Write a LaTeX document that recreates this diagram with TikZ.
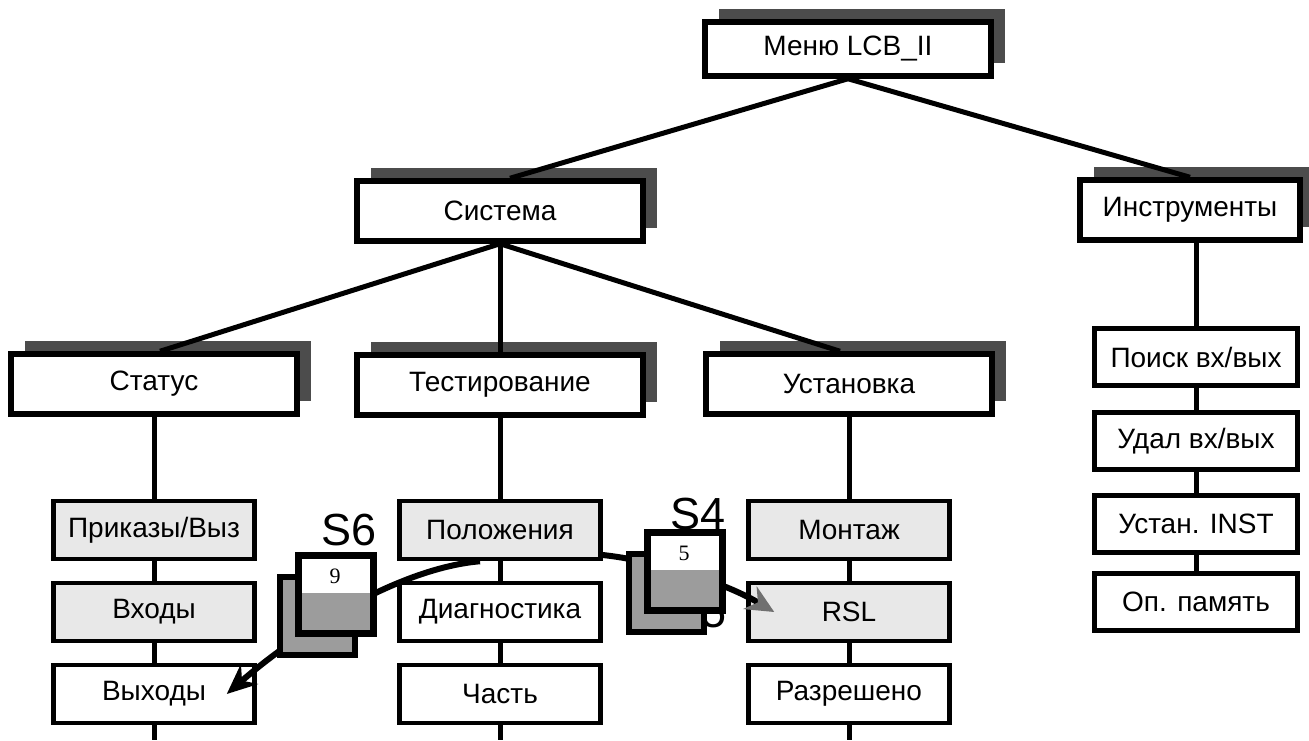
\documentclass[tikz,border=0pt]{standalone}
\usepackage{fontspec}
\setmainfont{Liberation Sans}
\newfontfamily\numfont{Liberation Serif}
\usetikzlibrary{arrows.meta,shadows,positioning}
\definecolor{boxgrey}{HTML}{E8E8E8}
\definecolor{shadowgrey}{HTML}{4C4C4C}
\definecolor{icongrey}{HTML}{9C9C9C}
\definecolor{tipgrey}{HTML}{707070}

\newcommand{\stackicon}[4]{%
  \draw[line width=6pt,fill=icongrey] (#1-18,#2+22) rectangle ++(75,78);
  \fill[white] (#1,#2) rectangle ++(75,38);
  \fill[icongrey] (#1,#2+38) rectangle ++(75,40);
  \draw[line width=7pt] (#1,#2) rectangle ++(75,78);
  \node[num] (#3) at (#1+37,#2+21) {#4};
}

\begin{document}
\begin{tikzpicture}[x=1pt,y=-1pt,
    lbl/.style={font=\fontsize{28}{32}\selectfont},
    head/.style={lbl,draw,fill=white,line width=5.5pt,inner sep=0pt,
        minimum width=286pt,minimum height=60pt,
        drop shadow={shadow xshift=14pt,shadow yshift=13pt,fill=shadowgrey,opacity=1}},
    leaf/.style={lbl,draw,fill=white,line width=4.5pt,inner sep=0pt,
        minimum width=201pt,minimum height=58pt},
    grey/.style={fill=boxgrey},
    conn/.style={line width=5pt},
    slabel/.style={inner sep=0pt,font=\fontsize{45}{45}\selectfont},
    num/.style={inner sep=0pt,font=\numfont\fontsize{22}{22}\selectfont}
]
    \useasboundingbox (0,0) rectangle (1309,740);

    \node[head,minimum height=54pt] (menu)  at (848,49)  {Меню LCB\_II};
    \node[head]                     (sys)   at (500,211) {Система};
    \node[head,minimum width=220pt] (tools) at (1190,210) {Инструменты};

    \node[head] (status) at (154,384) {Статус};
    \node[head] (test)   at (500,385) {Тестирование};
    \node[head] (setup)  at (849,384) {Установка};

    \node[leaf,grey] (cmd)     at (154,530) {Приказы/Выз};
    \node[leaf,grey] (inputs)  at (154,612) {Входы};
    \node[leaf]      (outputs) at (154,694) {Выходы};

    \node[leaf,grey] (pos)  at (500,530) {Положения};
    \node[leaf]      (diag) at (500,612) {Диагностика};
    \node[leaf]      (part) at (500,694) {Часть};

    \node[leaf,grey] (mount)   at (849,530) {Монтаж};
    \node[leaf,grey] (rsl)     at (849,612) {RSL};
    \node[leaf]      (enabled) at (849,694) {Разрешено};

    \node[leaf,minimum width=203pt,minimum height=57pt] (search)  at (1196,357) {Поиск вх/вых};
    \node[leaf,minimum width=203pt,minimum height=57pt] (del)     at (1196,441) {Удал вх/вых};
    \node[leaf,minimum width=203pt,minimum height=57pt] (instset) at (1196,524) {Устан. INST};
    \node[leaf,minimum width=203pt,minimum height=57pt] (mem)     at (1196,602) {Оп. память};

    \coordinate (outputs-end) at (154,740);
    \coordinate (part-end)    at (500,740);
    \coordinate (enabled-end) at (849,740);

    \begin{scope}[conn]
        \draw (menu.south) -- ([xshift=10pt]sys.north);
        \draw (menu.south) -- (tools.north);
        \draw (sys.south) -- ([xshift=6pt]status.north);
        \draw (sys.south) -- (test.north);
        \draw (sys.south) -- ([xshift=-9pt]setup.north);
        \draw (status) -- (cmd);
        \draw (cmd) -- (inputs);
        \draw (inputs) -- (outputs);
        \draw (outputs) -- (outputs-end);
        \draw (test) -- (pos);
        \draw (pos) -- (diag);
        \draw (diag) -- (part);
        \draw (part) -- (part-end);
        \draw (setup) -- (mount);
        \draw (mount) -- (rsl);
        \draw (rsl) -- (enabled);
        \draw (enabled) -- (enabled-end);
        \draw (search.north |- tools.south) -- (search.north);
        \draw (search) -- (del);
        \draw (del) -- (instset);
        \draw (instset) -- (mem);
    \end{scope}

    \draw[conn,line width=6pt,-{Stealth[length=30pt,width=26pt]}] ([xshift=-20pt]pos.south)
        .. controls (400,568) and (300,630) .. ([xshift=-30pt]outputs.east);
    \draw[conn,line width=6pt,-{Stealth[length=28pt,width=26pt,color=tipgrey]}] ([yshift=-25pt]pos.east)
        .. controls (650,560) and (720,580) .. ([xshift=28pt]rsl.west);

    \node[slabel] (s6) at (349,530) {S6};
    \stackicon{298}{555}{n9}{9}

    \node[slabel] (s4) at (698,514) {S4};
    \node[slabel] (s5) at (714,612) {5};
    \stackicon{647}{532}{n5}{5}
\end{tikzpicture}
\end{document}
